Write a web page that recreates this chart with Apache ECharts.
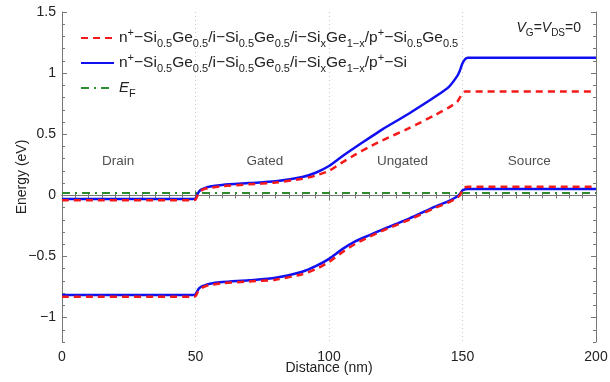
<!DOCTYPE html>
<html>
<head>
<meta charset="UTF-8">
<script src="https://cdn.jsdelivr.net/npm/echarts@6/dist/echarts.min.js"></script>
<style>
  html, body { margin: 0; padding: 0; background: #fff; }
  #main { width: 610px; height: 382px; }
</style>
</head>
<body>
<div id="main"></div>
<script>
// distance (nm) sample points along the device
var distance = [0, 49, 50, 51, 52, 53, 55, 60, 70, 80, 90, 95, 100, 105, 110, 115, 120, 130, 140, 145, 148, 149, 150, 151, 152, 200];

// SiGe source (red dashed)
var redCB = [-0.04, -0.04, -0.035, 0.01, 0.035, 0.05, 0.06, 0.075, 0.09, 0.105, 0.135, 0.162, 0.2, 0.27, 0.335, 0.395, 0.45, 0.55, 0.66, 0.72, 0.765, 0.8, 0.835, 0.85, 0.85, 0.85];
var redVB = [-0.83, -0.83, -0.825, -0.785, -0.765, -0.75, -0.735, -0.72, -0.705, -0.69, -0.645, -0.605, -0.545, -0.465, -0.395, -0.34, -0.29, -0.2, -0.1, -0.055, -0.02, 0.0, 0.045, 0.065, 0.07, 0.07];

// Si source (blue solid)
var blueCB = [-0.03, -0.03, -0.025, 0.02, 0.045, 0.055, 0.07, 0.085, 0.1, 0.115, 0.15, 0.185, 0.24, 0.32, 0.395, 0.468, 0.54, 0.67, 0.81, 0.89, 0.975, 1.02, 1.08, 1.115, 1.125, 1.125];
var blueVB = [-0.815, -0.815, -0.81, -0.77, -0.75, -0.74, -0.725, -0.71, -0.695, -0.675, -0.625, -0.58, -0.52, -0.44, -0.375, -0.327, -0.28, -0.19, -0.09, -0.045, -0.01, 0.01, 0.04, 0.05, 0.052, 0.052];

// Fermi level
var efX = [0, 200];
var efY = [0.02, 0.02];

// region labels
var regionNames = ['Drain', 'Gated', 'Ungated', 'Source'];
var regionX = [21, 76, 127.5, 175];
var regionY = [0.28, 0.28, 0.28, 0.28];

var yTicks = [-1, -0.5, 0, 0.5, 1, 1.5];

function pairs(xs, ys) {
  return xs.map(function (x, i) { return [x, ys[i]]; });
}

var legendText = {
  red: 'n{sup|+}\u2212Si{sub|0.5}Ge{sub|0.5}/i\u2212Si{sub|0.5}Ge{sub|0.5}/i\u2212Si{sub|x}Ge{sub|1\u2212x}/p{sup|+}\u2212Si{sub|0.5}Ge{sub|0.5}',
  blue: 'n{sup|+}\u2212Si{sub|0.5}Ge{sub|0.5}/i\u2212Si{sub|0.5}Ge{sub|0.5}/i\u2212Si{sub|x}Ge{sub|1\u2212x}/p{sup|+}\u2212Si',
  ef: '{it|E}{sub|F}'
};

var font = 'Liberation Sans';
var axisCol = '#777';

var richTxt = {
  sub: { fontSize: 11, verticalAlign: 'bottom', lineHeight: 11, color: '#222', fontFamily: font },
  sup: { fontSize: 11, verticalAlign: 'top', lineHeight: 11, color: '#222', fontFamily: font },
  it: { fontSize: 15, fontStyle: 'italic', color: '#222', fontFamily: font }
};

var chart = echarts.init(document.getElementById('main'), null, { renderer: 'canvas' });

var baseX = { type: 'value', min: 0, max: 200 };
var baseY = { type: 'value', min: -1.2, max: 1.5 };

var option = {
  animation: false,
  backgroundColor: '#fff',
  grid: { left: 62, right: 14, top: 12, bottom: 40, containLabel: false, outerBoundsMode: 'none' },
  title: {
    text: '{it|V}{sub|G}={it|V}{sub|DS}=0',
    right: 24, top: 13,
    textStyle: {
      fontSize: 14, fontWeight: 'normal', color: '#222', fontFamily: font, lineHeight: 20,
      rich: {
        it: { fontSize: 14, fontStyle: 'italic', color: '#222', fontFamily: font },
        sub: { fontSize: 10, verticalAlign: 'bottom', lineHeight: 10, color: '#222', fontFamily: font }
      }
    }
  },
  legend: {
    orient: 'vertical',
    left: 80, top: 27, padding: 0,
    itemWidth: 33, itemHeight: 10, itemGap: 3,
    itemStyle: { opacity: 0 },
    data: ['red', 'blue', 'ef'],
    formatter: function (name) { return legendText[name]; },
    textStyle: { fontSize: 15.5, color: '#222', fontFamily: font, lineHeight: 22, rich: richTxt }
  },
  xAxis: [
    Object.assign({}, baseX, {
      position: 'bottom', interval: 50,
      name: 'Distance (nm)', nameLocation: 'middle', nameGap: 19,
      nameMoveOverlap: false,
      nameTextStyle: { fontSize: 14, color: '#222', fontFamily: font },
      axisLine: { lineStyle: { color: axisCol } },
      axisTick: { inside: true, length: 5, lineStyle: { color: axisCol } },
      minorTick: { show: true, splitNumber: 10, length: 3, lineStyle: { color: axisCol } },
      axisLabel: { fontSize: 14, color: '#222', fontFamily: font, margin: 8 },
      splitLine: { show: true, lineStyle: { color: '#c8c8c8', type: [1, 3], width: 1 } }
    }),
    Object.assign({}, baseX, {
      position: 'top', interval: 50,
      axisLine: { lineStyle: { color: axisCol } },
      axisTick: { inside: true, length: 5, lineStyle: { color: axisCol } },
      minorTick: { show: true, splitNumber: 10, length: 3, lineStyle: { color: axisCol } },
      axisLabel: { show: false },
      splitLine: { show: false }
    })
  ],
  yAxis: [
    Object.assign({}, baseY, {
      position: 'left',
      name: 'Energy (eV)', nameLocation: 'middle', nameGap: 33,
      nameMoveOverlap: false,
      nameTextStyle: { fontSize: 14, color: '#222', fontFamily: font },
      axisLine: { lineStyle: { color: axisCol } },
      axisTick: { inside: true, length: 5, customValues: yTicks, lineStyle: { color: axisCol } },
      axisLabel: {
        customValues: yTicks, fontSize: 14, color: '#222', fontFamily: font, margin: 6,
        formatter: function (v) { return String(v).replace('-', '\u2212'); }
      },
      splitLine: { show: false }
    }),
    Object.assign({}, baseY, {
      position: 'left', interval: 0.1,
      axisLine: { show: false },
      axisTick: { inside: true, length: 3, lineStyle: { color: axisCol } },
      axisLabel: { show: false },
      splitLine: { show: false }
    }),
    Object.assign({}, baseY, {
      position: 'right',
      axisLine: { lineStyle: { color: axisCol } },
      axisTick: { inside: true, length: 5, customValues: yTicks, lineStyle: { color: axisCol } },
      axisLabel: { show: false },
      splitLine: { show: false }
    }),
    Object.assign({}, baseY, {
      position: 'right', interval: 0.1,
      axisLine: { show: false },
      axisTick: { inside: true, length: 3, lineStyle: { color: axisCol } },
      axisLabel: { show: false },
      splitLine: { show: false }
    })
  ],
  series: [
    {
      name: 'ef', type: 'line', data: pairs(efX, efY), showSymbol: false, symbol: 'none',
      color: '#2e8b2e',
      lineStyle: { color: '#2e8b2e', width: 2, type: [8, 5, 2, 5] }, z: 2
    },
    {
      name: 'blue', type: 'line', data: pairs(distance, blueCB), showSymbol: false, symbol: 'none', smooth: 0.25,
      color: '#1010f0', lineStyle: { color: '#1010f0', width: 2.5 }, z: 3
    },
    {
      name: 'blue', type: 'line', data: pairs(distance, blueVB), showSymbol: false, symbol: 'none', smooth: 0.25,
      color: '#1010f0', lineStyle: { color: '#1010f0', width: 2.5 }, z: 3
    },
    {
      name: 'red', type: 'line', data: pairs(distance, redCB), showSymbol: false, symbol: 'none', smooth: 0.25,
      color: '#f41a1a', lineStyle: { color: '#f41a1a', width: 2.5, type: [7, 5] }, z: 4
    },
    {
      name: 'red', type: 'line', data: pairs(distance, redVB), showSymbol: false, symbol: 'none', smooth: 0.25,
      color: '#f41a1a', lineStyle: { color: '#f41a1a', width: 2.5, type: [7, 5] }, z: 4
    },
    {
      name: 'regions', type: 'scatter', symbolSize: 0,
      data: regionNames.map(function (n, i) { return { name: n, value: [regionX[i], regionY[i]] }; }),
      label: {
        show: true, position: 'inside', formatter: '{b}',
        fontSize: 13.5, color: '#222', fontFamily: font
      },
      z: 5, silent: true
    }
  ]
};

chart.setOption(option);
</script>
</body>
</html>
